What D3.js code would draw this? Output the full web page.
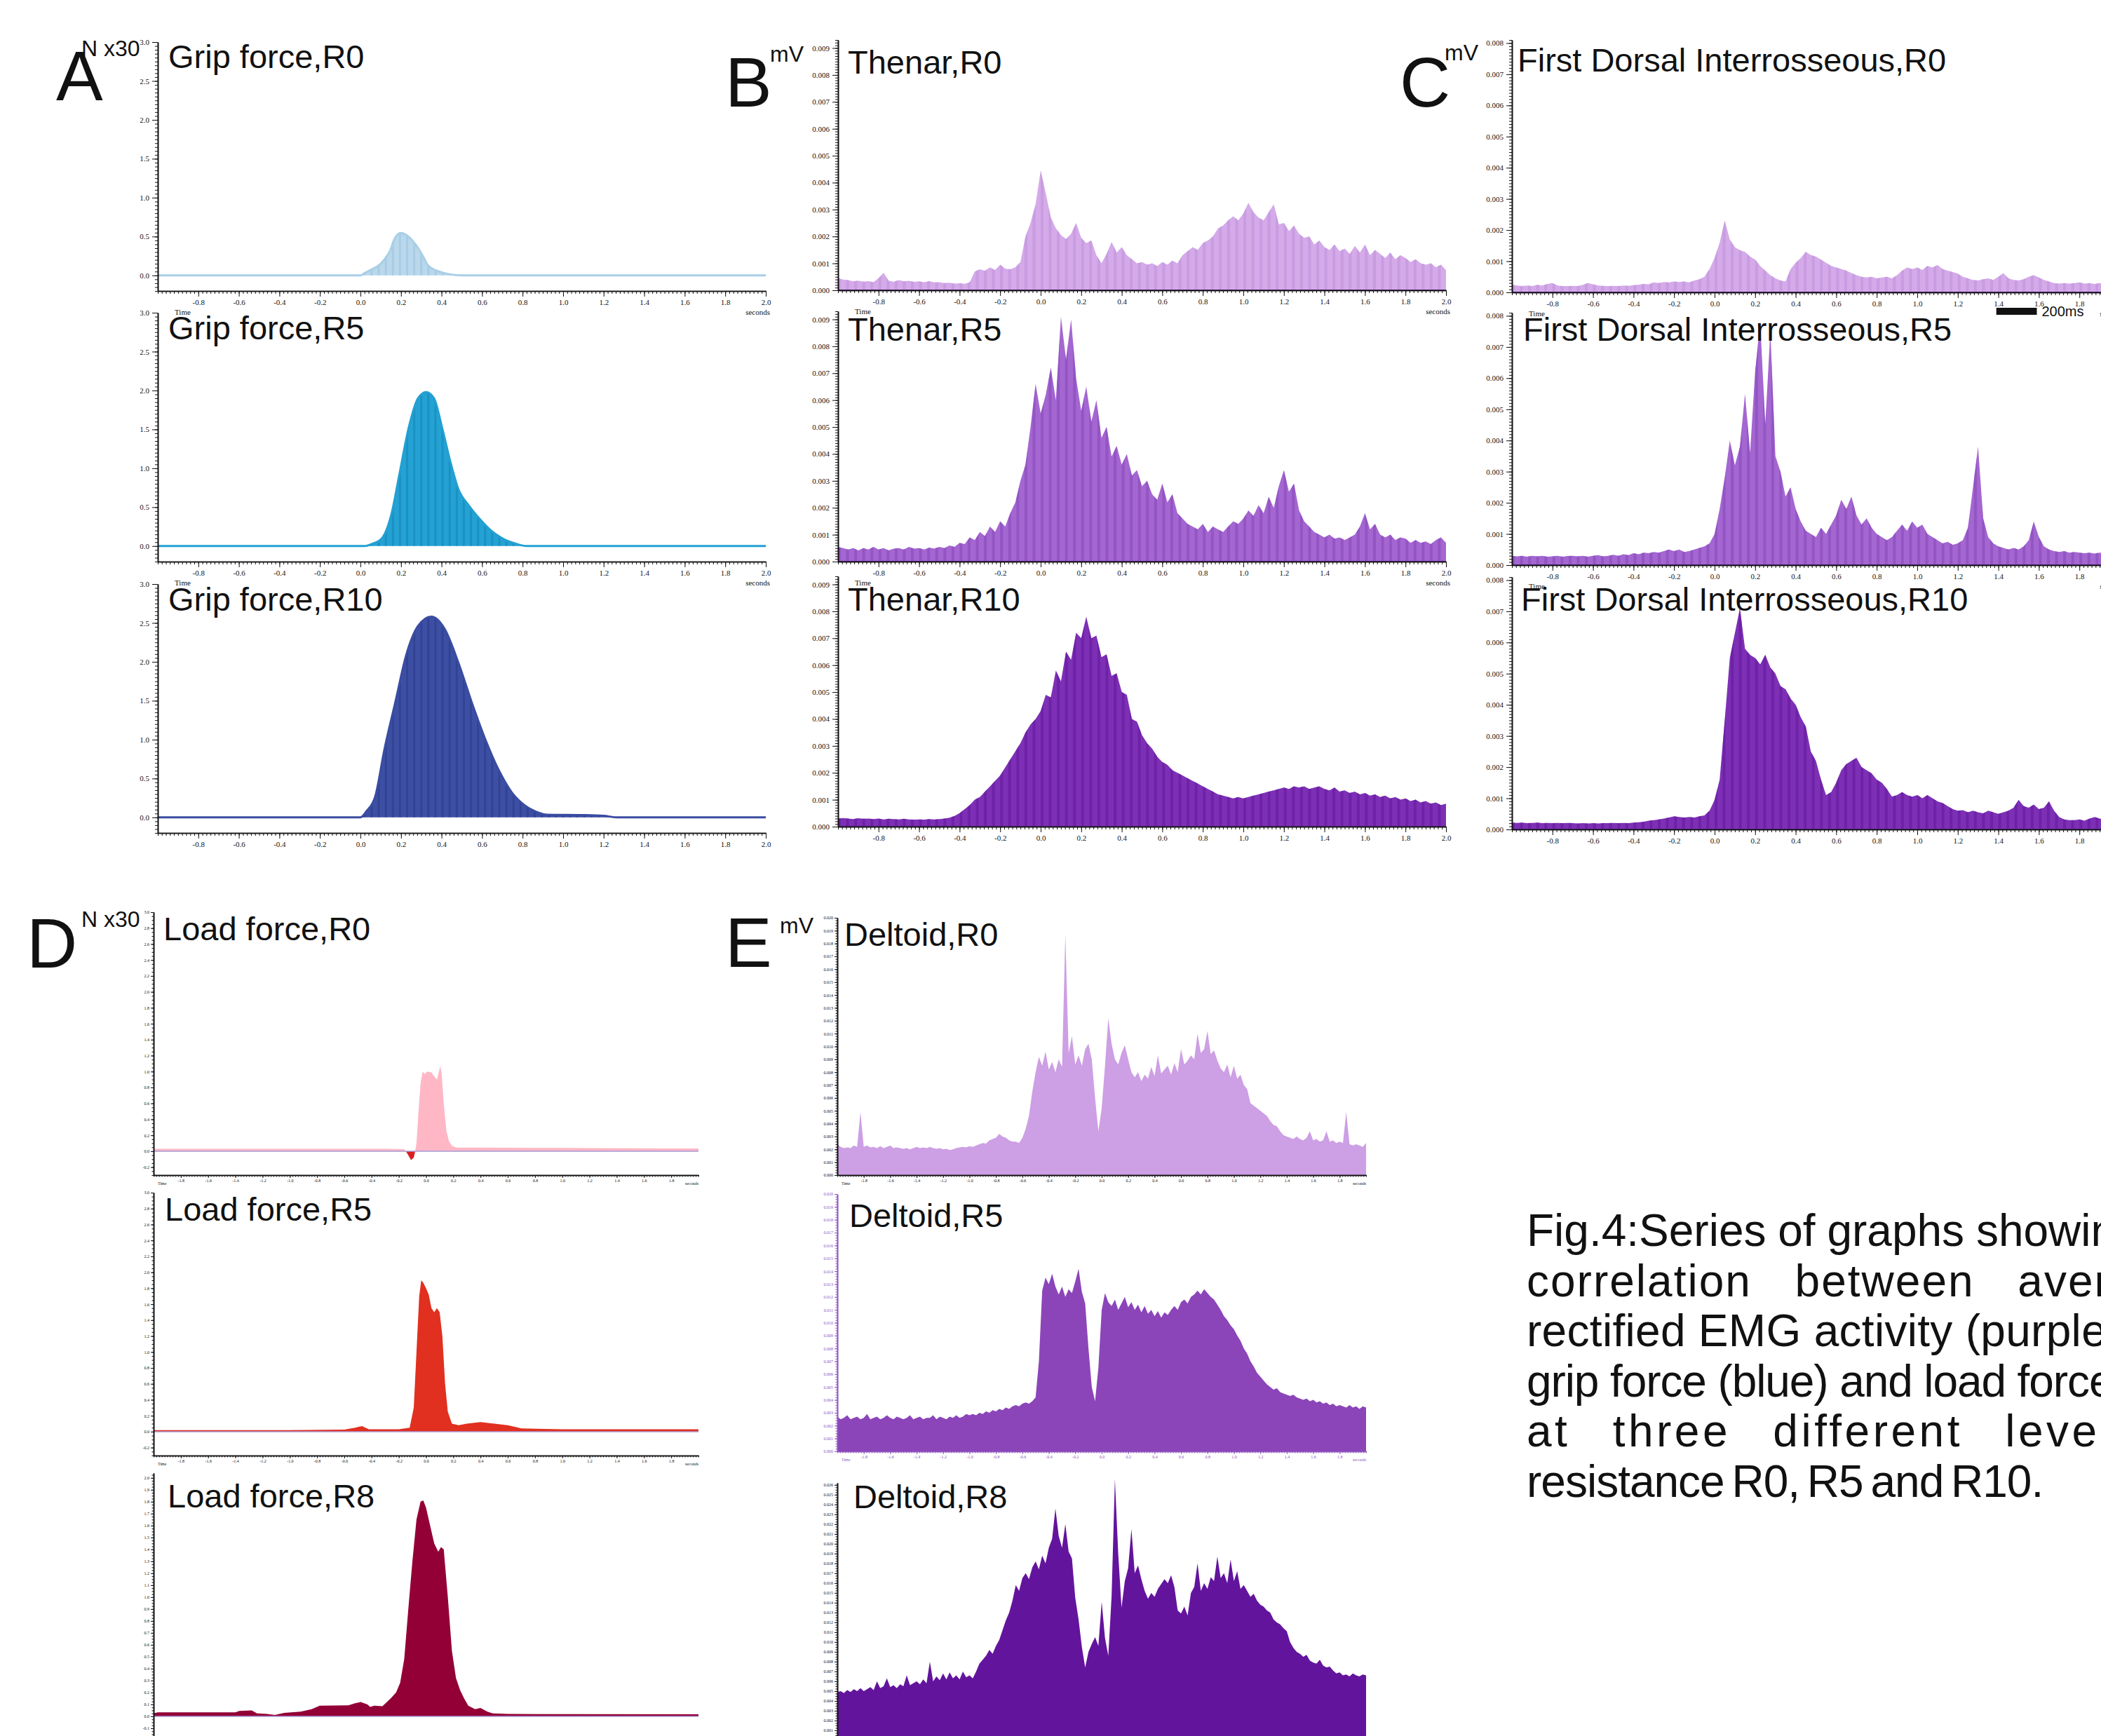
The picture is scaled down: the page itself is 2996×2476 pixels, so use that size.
<!DOCTYPE html>
<html>
<head>
<meta charset="utf-8">
<title>Fig.4 EMG activity, grip force and load force</title>
<script src="https://cdn.jsdelivr.net/npm/d3@7"></script>
<style>
  body { margin: 0; background: #fff; }
  svg { display: block; }
</style>
</head>
<body>
<div id="chart"></div>
<script>
// ---------- values ----------

// rectified EMG: one value every 0.025 s, in units of 0.001 mV
const emgStep = 0.025;

// Thenar, -1.0 .. 2.0 s
const thenarR0 = [
  0.45,0.40,0.38,0.33,0.36,0.32,0.34,0.30,0.45,0.65,
  0.35,0.32,0.38,0.33,0.35,0.31,0.33,0.30,0.34,0.29,
  0.30,0.27,0.28,0.25,0.26,0.24,0.30,0.70,0.78,0.72,
  0.85,0.75,0.95,0.80,0.78,0.85,1.05,2.0,2.5,3.2,
  4.45,3.6,2.7,2.3,2.05,1.9,2.1,2.5,1.95,1.75,
  1.85,1.3,1.0,1.35,1.8,1.4,1.6,1.3,1.15,1.0,
  1.05,0.95,1.0,0.9,1.05,0.95,1.1,1.0,1.3,1.45,
  1.6,1.5,1.75,1.85,2.0,2.3,2.4,2.6,2.75,2.6,
  2.85,3.25,2.9,2.7,2.6,2.9,3.2,2.45,2.5,2.2,
  2.4,2.1,1.95,2.0,1.7,1.85,1.6,1.5,1.7,1.45,
  1.55,1.35,1.65,1.4,1.7,1.3,1.5,1.35,1.2,1.4,
  1.15,1.3,1.2,1.05,1.15,1.0,0.95,1.0,0.85,0.95,
  0.75];
const thenarR5 = [
  0.55,0.5,0.45,0.5,0.42,0.5,0.45,0.55,0.45,0.5,
  0.42,0.48,0.5,0.45,0.55,0.48,0.5,0.45,0.52,0.48,
  0.55,0.5,0.6,0.55,0.7,0.65,0.9,0.8,1.1,0.95,
  1.3,1.1,1.5,1.3,1.8,2.2,3.0,3.6,5.0,6.6,
  5.5,6.2,7.2,6.0,9.1,7.5,9.0,6.8,5.6,6.5,
  5.2,6.0,4.6,5.0,3.9,4.3,3.6,4.0,3.2,3.4,
  2.8,3.0,2.5,2.3,2.9,2.2,2.5,1.8,1.6,1.4,
  1.3,1.2,1.4,1.1,1.3,1.2,1.1,1.3,1.5,1.4,
  1.6,1.9,1.7,2.1,1.8,2.4,2.0,2.8,3.4,2.6,
  2.9,1.9,1.5,1.3,1.1,1.0,0.9,1.0,0.85,0.9,
  0.8,0.9,1.0,1.3,1.8,1.2,1.4,1.0,0.9,1.0,
  0.8,0.9,0.85,0.7,0.8,0.7,0.75,0.65,0.8,0.9,
  0.7];
const thenarR10 = [
  0.3,0.32,0.3,0.28,0.31,0.29,0.3,0.28,0.3,0.27,
  0.29,0.28,0.27,0.29,0.27,0.26,0.27,0.26,0.28,0.27,
  0.28,0.3,0.33,0.4,0.5,0.65,0.8,1.0,1.1,1.3,
  1.5,1.7,1.9,2.2,2.5,2.8,3.1,3.5,3.8,4.0,
  4.3,4.9,4.8,5.8,5.4,6.5,6.2,7.2,7.0,7.8,
  7.0,7.1,6.3,6.4,5.6,5.7,5.0,4.9,4.0,3.9,
  3.4,3.1,2.9,2.6,2.4,2.3,2.1,2.0,1.9,1.8,
  1.7,1.6,1.5,1.4,1.3,1.2,1.15,1.1,1.05,1.1,
  1.05,1.1,1.15,1.2,1.25,1.3,1.35,1.4,1.45,1.4,
  1.5,1.45,1.5,1.4,1.45,1.5,1.4,1.35,1.45,1.3,
  1.35,1.25,1.3,1.2,1.25,1.15,1.2,1.1,1.15,1.05,
  1.1,1.0,1.05,0.95,1.0,0.9,0.95,0.85,0.9,0.8,
  0.85];

// First dorsal interosseous, -1.0 .. 2.0 s
const fdiR0 = [
  0.25,0.22,0.2,0.22,0.2,0.24,0.22,0.27,0.3,0.22,
  0.2,0.2,0.21,0.2,0.24,0.3,0.26,0.22,0.21,0.2,
  0.21,0.2,0.22,0.21,0.23,0.25,0.27,0.26,0.32,0.3,
  0.33,0.32,0.35,0.33,0.35,0.32,0.38,0.42,0.5,0.75,
  1.1,1.6,2.3,1.7,1.45,1.35,1.3,1.15,1.05,0.85,
  0.7,0.55,0.45,0.38,0.35,0.75,0.95,1.1,1.3,1.2,
  1.15,1.05,0.95,0.85,0.8,0.75,0.7,0.62,0.55,0.5,
  0.48,0.5,0.45,0.48,0.5,0.45,0.55,0.7,0.8,0.75,
  0.8,0.72,0.85,0.8,0.88,0.75,0.7,0.65,0.6,0.5,
  0.45,0.4,0.38,0.42,0.45,0.4,0.5,0.62,0.45,0.4,
  0.38,0.42,0.5,0.55,0.48,0.4,0.35,0.3,0.28,0.3,
  0.28,0.3,0.32,0.28,0.3,0.27,0.3,0.28,0.3,0.27,
  0.28];
const fdiR5 = [
  0.3,0.28,0.3,0.27,0.3,0.28,0.3,0.27,0.28,0.3,
  0.27,0.29,0.3,0.28,0.3,0.27,0.3,0.32,0.28,0.3,
  0.33,0.3,0.35,0.32,0.38,0.35,0.4,0.38,0.42,0.4,
  0.45,0.5,0.45,0.5,0.42,0.45,0.5,0.55,0.6,0.7,
  1.0,1.8,2.8,4.0,3.2,3.8,5.5,3.6,6.2,7.8,
  4.5,7.5,3.5,3.0,2.2,2.5,1.8,1.4,1.1,1.0,
  0.9,1.2,1.0,1.3,1.6,2.1,1.8,2.2,1.6,1.3,
  1.5,1.2,1.0,0.9,0.8,0.9,1.1,1.3,1.1,1.4,
  1.2,1.3,1.0,0.9,0.8,0.7,0.75,0.65,0.7,0.8,
  1.2,2.5,3.8,1.5,0.9,0.7,0.6,0.55,0.5,0.55,
  0.5,0.6,0.8,1.4,0.9,0.6,0.5,0.45,0.42,0.45,
  0.4,0.42,0.4,0.38,0.4,0.37,0.4,0.38,0.4,0.37,
  0.38];
const fdiR10 = [
  0.22,0.21,0.22,0.2,0.21,0.22,0.2,0.21,0.2,0.21,
  0.2,0.21,0.2,0.19,0.2,0.19,0.2,0.19,0.2,0.2,
  0.21,0.2,0.21,0.2,0.22,0.23,0.25,0.28,0.3,0.32,
  0.35,0.38,0.42,0.4,0.38,0.4,0.38,0.42,0.45,0.6,
  0.95,1.6,3.5,5.5,6.3,7.1,5.8,5.6,5.5,5.3,
  5.6,5.2,5.0,4.6,4.5,4.2,4.0,3.6,3.3,2.5,
  2.2,1.6,1.1,1.2,1.5,1.9,2.1,2.2,2.3,2.0,
  1.9,1.8,1.6,1.5,1.3,1.05,1.1,1.2,1.1,1.05,
  1.1,1.0,1.1,1.0,0.9,0.85,0.75,0.65,0.6,0.62,
  0.55,0.6,0.55,0.52,0.6,0.55,0.5,0.55,0.6,0.7,
  0.95,0.75,0.7,0.8,0.65,0.7,0.9,0.6,0.4,0.32,
  0.3,0.3,0.32,0.28,0.35,0.4,0.35,0.3,0.28,0.3,
  0.28];

// Deltoid, -2.0 .. 2.0 s
const deltoidR0 = [
  2.4,2.2,2.1,2.15,2.1,2.3,2.2,4.9,2.2,2.3,
  2.15,2.2,2.1,2.25,2.1,2.2,2.3,2.1,2.15,2.1,
  2.05,2.1,2.0,2.1,2.2,2.1,2.15,2.1,2.2,2.1,
  2.05,2.1,2.0,2.05,1.95,2.0,2.1,2.15,2.2,2.15,
  2.25,2.2,2.3,2.4,2.5,2.45,2.7,2.8,2.9,3.2,
  3.0,2.9,2.7,2.6,2.6,2.5,2.9,3.6,4.6,6.5,
  8.0,9.2,8.5,9.6,8.2,8.8,8.0,9.0,8.4,18.7,
  9.5,10.8,8.6,9.3,8.5,9.8,10.2,9.0,6.0,3.4,
  5.2,8.5,12.2,10.2,9.0,8.6,9.5,10.1,9.0,8.0,
  7.6,8.0,7.3,7.8,7.5,8.4,7.7,9.3,7.9,8.2,
  8.5,7.8,8.7,8.0,9.8,8.6,8.9,9.3,9.0,11.0,
  9.5,9.8,11.2,9.4,9.7,8.9,8.3,8.0,8.6,7.6,
  8.5,7.5,7.8,7.0,6.7,5.6,5.4,5.2,5.0,4.8,
  4.6,4.2,3.9,3.8,3.4,3.1,3.0,2.9,2.8,3.0,
  2.8,2.7,2.9,3.4,2.7,2.8,2.6,2.7,3.4,2.6,
  2.7,2.5,2.6,2.5,4.9,2.4,2.3,2.4,2.3,2.2,
  2.5];
const deltoidR5 = [
  2.7,2.5,2.6,2.8,2.5,2.6,2.7,2.5,2.6,2.9,
  2.5,2.6,2.7,2.5,2.6,2.8,2.6,2.5,2.7,2.6,
  2.5,2.6,2.8,2.5,2.6,2.7,2.5,2.6,2.6,2.8,
  2.5,2.7,2.6,2.5,2.7,2.6,2.8,2.6,2.7,2.9,
  2.8,2.9,2.8,3.0,2.9,3.1,3.0,3.2,3.1,3.3,
  3.2,3.4,3.3,3.5,3.6,3.5,3.7,3.8,3.7,3.9,
  4.2,7.0,12.5,13.5,13.0,13.8,12.8,12.2,12.8,12.0,
  12.6,12.3,13.2,14.2,12.4,11.5,8.0,5.0,3.9,6.5,
  11.0,12.3,11.6,11.3,11.8,11.0,11.5,12.0,11.2,11.6,
  11.0,11.4,10.8,11.3,10.7,11.0,10.5,10.9,10.4,10.8,
  10.6,11.0,11.3,11.0,11.6,11.8,11.5,12.0,12.2,12.5,
  12.2,12.6,12.3,12.0,11.8,11.4,11.0,10.5,10.2,9.8,
  9.5,9.0,8.6,8.0,7.6,7.0,6.6,6.1,5.8,5.5,
  5.2,5.0,4.8,4.9,4.6,4.5,4.4,4.3,4.4,4.2,
  4.1,4.0,4.1,3.9,4.0,3.8,3.9,3.7,3.8,3.6,
  3.7,3.5,3.6,3.5,3.4,3.6,3.4,3.5,3.3,3.5,
  3.4];
const deltoidR8 = [
  4.9,5.0,4.8,5.1,4.9,5.2,5.0,5.3,5.0,5.2,
  5.4,5.1,6.0,5.3,5.5,6.3,5.4,5.6,5.3,5.7,
  5.5,6.6,5.6,5.8,6.0,5.7,6.2,5.8,8.0,6.0,
  6.5,6.1,6.8,6.2,6.9,6.3,6.6,6.2,7.0,6.4,
  6.6,6.3,7.0,7.8,8.2,8.6,9.2,8.8,9.6,10.2,
  11.2,12.2,13.0,14.2,15.8,15.2,16.5,17.0,16.4,17.6,
  18.2,17.4,18.8,18.0,19.6,20.5,23.6,20.8,19.6,22.0,
  19.2,18.5,14.5,12.3,9.5,7.4,9.0,9.8,10.5,9.6,
  14.1,10.4,8.6,14.7,26.6,19.0,13.5,16.2,17.5,21.5,
  17.0,17.8,16.4,15.2,14.4,15.0,14.6,15.4,15.9,16.4,
  16.0,16.8,15.6,13.2,12.9,13.6,12.7,15.0,15.6,18.0,
  15.2,16.0,15.4,16.6,16.2,18.7,16.5,17.0,16.0,18.4,
  16.2,17.2,15.4,15.8,15.2,14.6,14.9,14.2,13.8,13.6,
  13.2,13.0,12.3,12.0,11.8,11.4,11.1,10.0,9.4,9.0,
  8.8,8.5,8.7,8.1,7.9,7.8,8.2,7.6,7.4,7.5,
  7.1,6.8,6.9,6.6,6.7,6.5,6.8,6.6,6.5,6.7,
  6.6];

// grip force (N x30): [time s, value]
const gripR0 = [[-1,0],[0,0],[0.02,0.03],[0.05,0.07],[0.08,0.11],[0.1,0.15],[0.125,0.23],[0.145,0.31],
  [0.165,0.45],[0.185,0.53],[0.2,0.545],[0.22,0.53],[0.245,0.48],[0.265,0.42],[0.285,0.35],[0.31,0.24],
  [0.33,0.14],[0.36,0.08],[0.4,0.04],[0.44,0.015],[0.5,0],[2,0]];
const gripR5 = [[-1,0],[0.02,0],[0.06,0.03],[0.106,0.1],[0.152,0.4],[0.192,0.92],[0.238,1.52],[0.284,1.9],
  [0.324,1.98],[0.363,1.9],[0.403,1.52],[0.443,1.09],[0.482,0.74],[0.535,0.52],[0.588,0.35],[0.64,0.21],
  [0.7,0.1],[0.767,0.03],[0.82,0],[2,0]];
const gripR10 = [[-1,0],[0,0],[0.03,0.08],[0.073,0.27],[0.118,0.87],[0.172,1.48],[0.225,2.08],[0.284,2.46],
  [0.35,2.58],[0.416,2.42],[0.483,1.99],[0.549,1.48],[0.615,1.01],[0.68,0.62],[0.747,0.32],[0.813,0.15],
  [0.88,0.06],[0.92,0.035],[1.1,0.03],[1.2,0.02],[1.27,0],[2,0]];

// load force (N x30): [time s, value]
const loadR0 = [[-2,0.03],[-1,0.03],[-0.3,0.03],[-0.16,0.025],[-0.15,0],[-0.14,-0.02],[-0.12,-0.08],
  [-0.11,-0.11],[-0.09,-0.08],[-0.08,0],[-0.07,0.1],[-0.055,0.5],[-0.04,0.85],[-0.025,1.0],[-0.01,0.97],
  [0.01,1.0],[0.04,0.99],[0.06,0.94],[0.08,0.9],[0.095,1.0],[0.105,1.07],[0.115,0.97],[0.13,0.6],
  [0.15,0.25],[0.17,0.12],[0.19,0.07],[0.22,0.045],[0.4,0.045],[1.0,0.04],[1.8,0.035],[2,0.035]];
const loadR5 = [[-2,0.02],[-1,0.02],[-0.6,0.025],[-0.52,0.05],[-0.47,0.07],[-0.42,0.03],[-0.2,0.03],
  [-0.12,0.05],[-0.09,0.3],[-0.07,1.0],[-0.05,1.7],[-0.035,1.9],[-0.02,1.87],[0,1.8],[0.02,1.72],
  [0.04,1.55],[0.06,1.5],[0.08,1.55],[0.1,1.5],[0.12,1.2],[0.14,0.6],[0.16,0.25],[0.19,0.1],[0.24,0.08],
  [0.3,0.1],[0.4,0.12],[0.5,0.1],[0.6,0.08],[0.7,0.04],[1.0,0.03],[2,0.03]];
const loadR8 = [[-2,0.025],[-1.97,0.033],[-1.4,0.033],[-1.37,0.045],[-1.28,0.05],[-1.24,0.025],[-1.17,0.02],
  [-1.11,0.012],[-1.04,0.03],[-0.92,0.04],[-0.84,0.06],[-0.78,0.09],[-0.57,0.092],[-0.52,0.11],[-0.48,0.12],
  [-0.43,0.1],[-0.41,0.08],[-0.38,0.09],[-0.32,0.085],[-0.26,0.15],[-0.22,0.2],[-0.19,0.28],[-0.16,0.48],
  [-0.13,0.9],[-0.1,1.3],[-0.07,1.65],[-0.04,1.8],[-0.02,1.81],[0,1.75],[0.03,1.6],[0.06,1.45],[0.09,1.38],
  [0.11,1.42],[0.13,1.4],[0.16,1.0],[0.19,0.55],[0.22,0.32],[0.25,0.22],[0.28,0.15],[0.31,0.09],[0.36,0.06],
  [0.4,0.07],[0.45,0.04],[0.49,0.025],[0.6,0.02],[2,0.018]];

// tick values
const timeTicks3 = [-0.8,-0.6,-0.4,-0.2,0,0.2,0.4,0.6,0.8,1.0,1.2,1.4,1.6,1.8,2.0];
const timeTicks4 = [-1.8,-1.6,-1.4,-1.2,-1.0,-0.8,-0.6,-0.4,-0.2,0,0.2,0.4,0.6,0.8,1.0,1.2,1.4,1.6,1.8];
const gripTicks = [0,0.5,1.0,1.5,2.0,2.5,3.0];
const thenarTicks = [0,1,2,3,4,5,6,7,8,9];
const fdiTicks = [0,1,2,3,4,5,6,7,8];
const loadTicks = [-0.2,0,0.2,0.4,0.6,0.8,1.0,1.2,1.4,1.6,1.8,2.0,2.2,2.4,2.6,2.8,3.0];
const loadR8Ticks = [-0.1,0,0.1,0.2,0.3,0.4,0.5,0.6,0.7,0.8,0.9,1.0,1.1,1.2,1.3,1.4,1.5,1.6,1.7,1.8,1.9,2.0];
const deltoidTicks = [0,1,2,3,4,5,6,7,8,9,10,11,12,13,14,15,16,17,18,19,20];
const deltoidR8Ticks = [0,1,2,3,4,5,6,7,8,9,10,11,12,13,14,15,16,17,18,19,20,21,22,23,24,25,26];

// caption lines (justified block that runs off the right edge)
const captionLines = [
  "Fig.4:Series of graphs showing the",
  "correlation between average",
  "rectified EMG activity (purple),",
  "grip force (blue) and load force (red)",
  "at three different levels of",
  "resistance R0, R5 and R10."
];
const captionLetterSpacing = [0, 2, 0.3, -1.1, 4.5, -1];
const captionWordSpacing = [-1, 42, 0, 0, 38, -6];

// ---------- drawing ----------
const W = 2996, H = 2476;
const svg = d3.select("#chart").append("svg")
  .attr("width", W).attr("height", H)
  .attr("font-family", "'Liberation Sans', Arial, Helvetica, sans-serif");
svg.append("rect").attr("width", W).attr("height", H).attr("fill", "#fff");
const defs = svg.append("defs");

const emgSeries = (arr, t0) => arr.map((v, i) => [t0 + i * emgStep, v]);
const fmt1 = d => (Math.abs(d) < 1e-9 ? 0 : d).toFixed(1);
const fmtMv = d => (d / 1000).toFixed(3);

let clipCount = 0;

function drawPanel(p) {
  const x = d3.scaleLinear().domain(p.xDomain).range([p.left, p.right]);
  const y = d3.scaleLinear().domain(p.yDomain).range([p.bottom, p.top]);
  const g = svg.append("g");

  const area = d3.area().curve(p.curve)
    .x(d => x(d[0])).y0(y(0)).y1(d => y(d[1]));
  const id = "trace" + (clipCount++);
  defs.append("clipPath").attr("id", id).append("path").attr("d", area(p.data));

  g.append("path").attr("d", area(p.data)).attr("fill", p.color);

  // vertical banding of the sampled trace
  if (p.stripeStep) {
    g.append("g").attr("clip-path", `url(#${id})`)
      .selectAll("rect")
      .data(d3.range(p.xDomain[0], p.xDomain[1], p.stripeStep))
      .join("rect")
      .attr("x", d => x(d)).attr("y", p.top - 30)
      .attr("width", p.stripeWidth).attr("height", p.bottom - p.top + 60)
      .attr("fill", p.stripeColor).attr("opacity", 0.55);
  }

  // part of the trace below zero
  if (p.lowColor) {
    const lowId = "low" + (clipCount++);
    defs.append("clipPath").attr("id", lowId).append("rect")
      .attr("x", p.left).attr("y", y(0))
      .attr("width", p.right - p.left).attr("height", p.bottom - y(0));
    g.append("path").attr("d", area(p.data)).attr("fill", p.lowColor)
      .attr("clip-path", `url(#${lowId})`);
  }

  if (p.edge) {
    g.append("path")
      .attr("d", d3.line().curve(p.curve).x(d => x(d[0])).y(d => y(d[1]))(p.data))
      .attr("fill", "none").attr("stroke", p.edge).attr("stroke-width", p.edgeWidth);
  }

  if (p.zeroLine) {
    g.append("line")
      .attr("x1", p.left).attr("x2", p.right).attr("y1", y(0)).attr("y2", y(0))
      .attr("stroke", p.zeroLine).attr("stroke-width", p.zeroWidth || 2);
  }

  // axes
  const ax = p.axisColor || "#111";
  const yMinor = d3.range(p.yDomain[0], p.yDomain[1] + 1e-9, p.yMinorStep);
  const xMinor = d3.range(p.xDomain[0], p.xDomain[1] + 1e-9, p.xMinorStep);

  const yMin = g.append("g").attr("transform", `translate(${p.left},0)`)
    .call(d3.axisLeft(y).tickValues(yMinor).tickSize(p.minorLen).tickSizeOuter(0).tickFormat(""));
  const yMaj = g.append("g").attr("transform", `translate(${p.left},0)`)
    .call(d3.axisLeft(y).tickValues(p.yTicks).tickSize(p.majorLen).tickSizeOuter(0)
      .tickPadding(p.tickPad).tickFormat(p.yFormat));
  const xMin = g.append("g").attr("transform", `translate(0,${p.bottom})`)
    .call(d3.axisBottom(x).tickValues(xMinor).tickSize(p.minorLen).tickSizeOuter(0).tickFormat(""));
  const xMaj = g.append("g").attr("transform", `translate(0,${p.bottom})`)
    .call(d3.axisBottom(x).tickValues(p.xTicks).tickSize(p.majorLen).tickSizeOuter(0)
      .tickPadding(p.tickPad).tickFormat(fmt1));

  [yMin, yMaj, xMin, xMaj].forEach(a => {
    a.selectAll("line").attr("stroke", ax).attr("stroke-width", 1);
    a.select(".domain").attr("stroke", ax).attr("stroke-width", 1.6);
    a.selectAll("text").attr("fill", ax)
      .attr("font-family", "'Liberation Serif', 'Times New Roman', serif")
      .attr("font-size", p.tickFont);
  });

  if (p.timeLabels) {
    g.append("text").attr("x", p.left + p.timeLeft).attr("y", p.bottom + p.timeDy)
      .attr("font-family", "'Liberation Serif', serif").attr("font-size", p.tickFont)
      .attr("fill", ax).text("Time");
    g.append("text").attr("x", p.right + p.timeRight).attr("y", p.bottom + p.timeDy)
      .attr("text-anchor", "end")
      .attr("font-family", "'Liberation Serif', serif").attr("font-size", p.tickFont)
      .attr("fill", ax).text("seconds");
  }

  svg.append("text").attr("x", p.titleX).attr("y", p.titleY)
    .attr("font-size", 47).attr("fill", "#111").text(p.title);

  return {x, y};
}

// common settings for the three upper columns (time -1 .. 2 s)
const upper = {
  xDomain: [-1, 2], xTicks: timeTicks3, xMinorStep: 0.02,
  majorLen: 8, minorLen: 4, tickPad: 4, tickFont: 11,
  timeLeft: 24, timeRight: 6, timeDy: 34
};
// common settings for the two lower columns (time -2 .. 2 s)
const lower = {
  xDomain: [-2, 2], xTicks: timeTicks4, xMinorStep: 0.02,
  majorLen: 4, minorLen: 2.5, tickPad: 2, tickFont: 6,
  timeLabels: true, timeLeft: 6, timeRight: 0, timeDy: 14,
  curve: d3.curveLinear
};

// A: grip force
const gripCols = {left: 225, right: 1092, yDomain: [-0.2, 3.0], yTicks: gripTicks,
  yMinorStep: 0.05, yFormat: fmt1, curve: d3.curveMonotoneX, stripeStep: 0.035, stripeWidth: 3,
  edgeWidth: 3, titleX: 240};
drawPanel({...upper, ...gripCols, top: 60, bottom: 415, data: gripR0, timeLabels: true,
  color: "#b9d8ec", stripeColor: "#9cc3df", edge: "#a9cfe7", title: "Grip force,R0", titleY: 97});
drawPanel({...upper, ...gripCols, top: 446, bottom: 801, data: gripR5, timeLabels: true,
  color: "#24a2d3", stripeColor: "#1484b6", edge: "#22a0d2", title: "Grip force,R5", titleY: 484});
drawPanel({...upper, ...gripCols, top: 833, bottom: 1188, data: gripR10,
  color: "#3d4fa3", stripeColor: "#2a3a8a", edge: "#3a4ca1", title: "Grip force,R10", titleY: 871});

// B: thenar EMG
const thenarCols = {left: 1195, right: 2062, yDomain: [0, 9.3], yTicks: thenarTicks,
  yMinorStep: 0.1, yFormat: fmtMv, curve: d3.curveLinear, stripeStep: 0.04, stripeWidth: 4,
  zeroLine: "#6a2fa0", titleX: 1209};
drawPanel({...upper, ...thenarCols, top: 57, bottom: 414, data: emgSeries(thenarR0, -1), timeLabels: true,
  color: "#d4aae9", stripeColor: "#bf90dd", title: "Thenar,R0", titleY: 105});
drawPanel({...upper, ...thenarCols, top: 444, bottom: 801, data: emgSeries(thenarR5, -1), timeLabels: true,
  color: "#a466d1", stripeColor: "#8747ba", title: "Thenar,R5", titleY: 486});
drawPanel({...upper, ...thenarCols, top: 822, bottom: 1179, data: emgSeries(thenarR10, -1),
  color: "#7d30b5", stripeColor: "#63189c", title: "Thenar,R10", titleY: 871});

// C: first dorsal interosseous EMG
const fdiCols = {left: 2156, right: 3023, yDomain: [0, 8.1], yTicks: fdiTicks,
  yMinorStep: 0.1, yFormat: fmtMv, curve: d3.curveLinear, stripeStep: 0.04, stripeWidth: 4,
  zeroLine: "#6a2fa0"};
const fdiTop = drawPanel({...upper, ...fdiCols, top: 57, bottom: 417, data: emgSeries(fdiR0, -1), timeLabels: true,
  color: "#d4aae9", stripeColor: "#bf90dd", title: "First Dorsal Interrosseous,R0", titleX: 2164, titleY: 102});
drawPanel({...upper, ...fdiCols, top: 446, bottom: 806, data: emgSeries(fdiR5, -1), timeLabels: true,
  color: "#a466d1", stripeColor: "#8747ba", title: "First Dorsal Interrosseous,R5", titleX: 2172, titleY: 486});
drawPanel({...upper, ...fdiCols, top: 823, bottom: 1183, data: emgSeries(fdiR10, -1),
  color: "#7d30b5", stripeColor: "#63189c", title: "First Dorsal Interrosseous,R10", titleX: 2169, titleY: 871});

// D: load force
const loadCols = {left: 219, right: 996, yMinorStep: 0.05, yFormat: fmt1, zeroLine: "#a99ad6", zeroWidth: 1.5};
drawPanel({...lower, ...loadCols, top: 1301, bottom: 1676, yDomain: [-0.3, 3.0], yTicks: loadTicks,
  data: loadR0, color: "#ffb7c6", lowColor: "#d91e1e", title: "Load force,R0", titleX: 233, titleY: 1341});
drawPanel({...lower, ...loadCols, top: 1701, bottom: 2076, yDomain: [-0.3, 3.0], yTicks: loadTicks,
  data: loadR5, color: "#e1301f", title: "Load force,R5", titleX: 235, titleY: 1741});
drawPanel({...lower, ...loadCols, top: 2101, bottom: 2482, yDomain: [-0.2, 2.04], yTicks: loadR8Ticks,
  yMinorStep: 0.025, data: loadR8, color: "#930036", title: "Load force,R8", titleX: 239, titleY: 2150});

// E: deltoid EMG
const deltCols = {left: 1194, right: 1948, yFormat: fmtMv};
drawPanel({...lower, ...deltCols, top: 1309, bottom: 1676, yDomain: [0, 20], yTicks: deltoidTicks,
  yMinorStep: 0.2, data: emgSeries(deltoidR0, -2), color: "#cd9fe4",
  title: "Deltoid,R0", titleX: 1204, titleY: 1349});
drawPanel({...lower, ...deltCols, top: 1703, bottom: 2070, yDomain: [0, 20], yTicks: deltoidTicks,
  yMinorStep: 0.2, data: emgSeries(deltoidR5, -2), color: "#8b45b9", axisColor: "#8d55bd",
  title: "Deltoid,R5", titleX: 1211, titleY: 1750});
drawPanel({...lower, ...deltCols, top: 2115, bottom: 2482, yDomain: [0, 26.2], yTicks: deltoidR8Ticks,
  yMinorStep: 0.25, data: emgSeries(deltoidR8, -2), color: "#63149d",
  title: "Deltoid,R8", titleX: 1217, titleY: 2151});

// 200 ms scale bar (uses the FDI time scale)
svg.append("rect")
  .attr("x", fdiTop.x(1.39)).attr("y", 439)
  .attr("width", fdiTop.x(1.59) - fdiTop.x(1.39)).attr("height", 10)
  .attr("fill", "#111");
svg.append("text").attr("x", fdiTop.x(1.59) + 7).attr("y", 451)
  .attr("font-size", 20).attr("fill", "#111").text("200ms");

// panel letters and units
const letters = [
  {t: "A", x: 80, y: 143, unit: "N x30", ux: 116, uy: 80},
  {t: "B", x: 1034, y: 152, unit: "mV", ux: 1098, uy: 88},
  {t: "C", x: 1996, y: 152, unit: "mV", ux: 2060, uy: 86},
  {t: "D", x: 38, y: 1380, unit: "N x30", ux: 116, uy: 1322},
  {t: "E", x: 1034, y: 1379, unit: "mV", ux: 1112, uy: 1331}
];
letters.forEach(l => {
  svg.append("text").attr("x", l.x).attr("y", l.y).attr("font-size", 100).attr("fill", "#111").text(l.t);
  svg.append("text").attr("x", l.ux).attr("y", l.uy).attr("font-size", 32).attr("fill", "#111").text(l.unit);
});

// caption
const cap = svg.append("g").attr("font-size", 64).attr("fill", "#111");
captionLines.forEach((line, i) => {
  cap.append("text").attr("x", 2177).attr("y", 1777 + i * 71.6)
    .style("letter-spacing", captionLetterSpacing[i] + "px")
    .style("word-spacing", captionWordSpacing[i] + "px")
    .text(line);
});
</script>
</body>
</html>
